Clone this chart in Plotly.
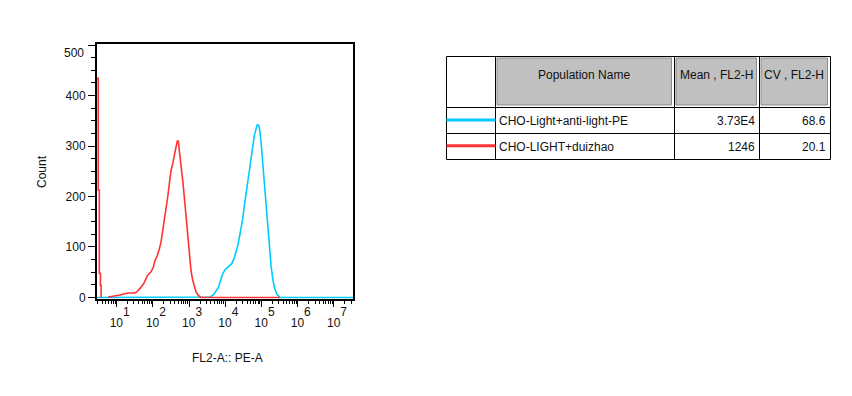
import plotly.graph_objects as go

# ---------------- data ----------------
# histogram of FL2-A (log10 of PE-A) vs Count
red_spike_log = [0.456, 0.49, 0.52, 0.55, 0.57]
red_spike_cnt = [434, 213, 48, 24, 0]

red_log = [0.768, 0.972, 1.091, 1.182, 1.320, 1.486, 1.552, 1.644, 1.735, 1.801,
           1.856, 1.948, 2.011, 2.058, 2.122, 2.177, 2.224, 2.271, 2.315, 2.362,
           2.409, 2.453, 2.500, 2.547, 2.591, 2.638, 2.674, 2.702, 2.729, 2.776,
           2.823, 2.867, 2.906, 2.942, 2.978, 3.017, 3.052, 3.099, 3.144, 3.191,
           3.254, 3.329, 5.511]
red_cnt = [1, 3, 5, 7, 9, 9, 11, 18, 26, 36,
           44, 51, 60, 73, 83, 96, 110, 133, 152, 176,
           199, 225, 251, 265, 278, 298, 310, 310, 291, 265,
           232, 199, 166, 139, 113, 80, 53, 34, 20, 11,
           4, 0, 0]

cyan_log = [0.456, 3.486, 3.577, 3.669, 3.743, 3.807, 3.873, 3.928, 3.992, 4.083,
            4.177, 4.240, 4.296, 4.343, 4.387, 4.434, 4.481, 4.525, 4.572, 4.619,
            4.663, 4.710, 4.757, 4.801, 4.848, 4.884, 4.923, 4.950, 4.986, 5.033,
            5.077, 5.124, 5.171, 5.215, 5.262, 5.309, 5.354, 5.420, 5.511, 7.525]
cyan_cnt = [0, 0, 1, 5, 12, 20, 34, 47, 55, 60,
            67, 77, 90, 103, 119, 136, 156, 182, 209, 228,
            251, 275, 301, 321, 334, 342, 341, 331, 308, 268,
            228, 189, 136, 96, 63, 37, 20, 7, 0, 0]

x_major_exp = [1, 2, 3, 4, 5, 6, 7]
y_ticks = [0, 100, 200, 300, 400, 500]

# table
table_headers = ["Population Name", "Mean , FL2-H", "CV , FL2-H"]
populations = ["CHO-Light+anti-light-PE", "CHO-LIGHT+duizhao"]
means = ["3.73E4", "1246"]
cvs = ["68.6", "20.1"]

RED = "#ff3333"
CYAN = "#00ccff"
FONT = "Arial, Liberation Sans, sans-serif"
TXT = "#111111"

W, H = 852, 396
# plot frame in pixels
PL, PR, PT, PB = 97, 353, 44, 298.7


def fx(px):
    return px / W


def fy(py):
    return 1 - py / H


fig = go.Figure()

fig.add_trace(go.Scatter(x=[10 ** v for v in cyan_log], y=cyan_cnt, mode="lines",
                         line=dict(color=CYAN, width=1.6), showlegend=False,
                         hoverinfo="skip"))
fig.add_trace(go.Scatter(x=[10 ** v for v in red_spike_log], y=red_spike_cnt, mode="lines",
                         line=dict(color=RED, width=1.6, shape="hv"), showlegend=False,
                         hoverinfo="skip"))
fig.add_trace(go.Scatter(x=[10 ** v for v in red_log], y=red_cnt, mode="lines",
                         line=dict(color=RED, width=1.6), showlegend=False,
                         hoverinfo="skip"))

x_minor = []
for d in range(0, 8):
    for m in range(2, 10):
        x_minor.append(m * 10 ** d)

fig.update_xaxes(
    type="log", range=[0.456, 7.525],
    domain=[fx(PL), fx(PR)],
    tickvals=[10 ** e for e in x_major_exp],
    ticktext=[f'\u200210<sup><span style="font-size:12px;baseline-shift:6px">{e}</span></sup>'
              for e in x_major_exp],
    ticks="outside", ticklen=6, tickwidth=1, tickcolor="black",
    minor=dict(tickvals=x_minor, ticks="outside", ticklen=3, tickwidth=1, tickcolor="black"),
    showgrid=False, zeroline=False,
    showline=True, linewidth=2, linecolor="black", mirror=True,
    tickfont=dict(family=FONT, size=12, color=TXT),
    ticklabelstandoff=6,
    automargin=False,
)
fig.update_yaxes(
    range=[-2.4, 502],
    domain=[fy(PB), fy(PT)],
    tickvals=y_ticks,
    ticktext=[str(v) if v < 500 else "" for v in y_ticks],
    ticks="outside", ticklen=7, tickwidth=1, tickcolor="black",
    minor=dict(dtick=25, ticks="outside", ticklen=4, tickwidth=1, tickcolor="black"),
    showgrid=False, zeroline=False,
    showline=True, linewidth=2, linecolor="black", mirror=True,
    tickfont=dict(family=FONT, size=12, color=TXT),
    automargin=False,
)

shapes = []
annotations = []


def text(px, py, s, xanchor="center", angle=0):
    annotations.append(dict(x=fx(px), y=fy(py), xref="paper", yref="paper", text=s,
                            xanchor=xanchor, yanchor="middle", textangle=angle,
                            showarrow=False, font=dict(family=FONT, size=12, color=TXT)))


# top y tick label sits a little lower in the reference (kept inside the frame)
text(86, 53, str(y_ticks[-1]), xanchor="right")

# axis titles
text(42, 172, "Count", angle=-90)
text(227, 358, "FL2-A:: PE-A")

# ---------- table ----------
TX = [446.5, 495.5, 674.5, 759.5, 830.5]
TY = [56.5, 107.5, 133.5, 159.5]

# header grey cells
for i in range(1, 4):
    shapes.append(dict(type="rect", xref="paper", yref="paper",
                       x0=fx(TX[i] + 1.5), x1=fx(TX[i + 1] - 3),
                       y0=fy(TY[0] + 1.5), y1=fy(TY[1] - 2.5),
                       fillcolor="#c0c0c0", line=dict(color="#8a8a8a", width=1)))
# outer border
shapes.append(dict(type="rect", xref="paper", yref="paper",
                   x0=fx(TX[0]), x1=fx(TX[-1]), y0=fy(TY[0]), y1=fy(TY[-1]),
                   line=dict(color="black", width=1)))
for xv in TX[1:-1]:
    shapes.append(dict(type="line", xref="paper", yref="paper",
                       x0=fx(xv), x1=fx(xv), y0=fy(TY[0]), y1=fy(TY[-1]),
                       line=dict(color="black", width=1)))
for yv in TY[1:-1]:
    shapes.append(dict(type="line", xref="paper", yref="paper",
                       x0=fx(TX[0]), x1=fx(TX[-1]), y0=fy(yv), y1=fy(yv),
                       line=dict(color="black", width=1)))

# header texts
for i, h in enumerate(table_headers):
    text((TX[i + 1] + TX[i + 2]) / 2 - 1, 75, h)

row_colors = [CYAN, RED]
row_y = [121, 146.5]
line_y = [120, 145.7]
for r in range(2):
    shapes.append(dict(type="line", xref="paper", yref="paper",
                       x0=fx(TX[0]), x1=fx(TX[1]), y0=fy(line_y[r]), y1=fy(line_y[r]),
                       line=dict(color=row_colors[r], width=3)))
    text(TX[1] + 1.5, row_y[r], populations[r], xanchor="left")
    text(TX[3] - 3, row_y[r], means[r], xanchor="right")
    text(TX[4] - 2.5, row_y[r], cvs[r], xanchor="right")

fig.update_layout(
    width=W, height=H,
    margin=dict(l=0, r=0, t=0, b=0),
    template="none",
    paper_bgcolor="white", plot_bgcolor="white",
    showlegend=False,
    shapes=shapes,
    annotations=annotations,
)

fig.write_html("out.html", config={"displayModeBar": False},
               post_script="document.body.style.margin='0px';")
